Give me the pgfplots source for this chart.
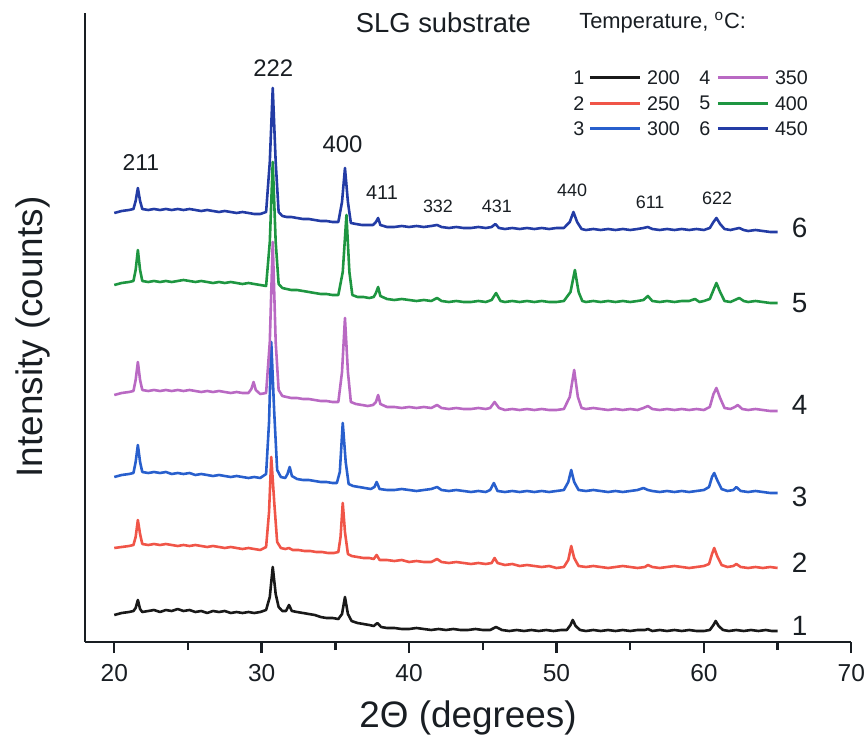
\documentclass[border=0pt]{standalone}
\usepackage{fontspec}
\setmainfont{Liberation Sans}
\usepackage{pgfplots}
\pgfplotsset{compat=1.18}
\definecolor{c1}{RGB}{25,25,25}
\definecolor{c2}{RGB}{240,85,72}
\definecolor{c3}{RGB}{40,95,205}
\definecolor{c4}{RGB}{185,105,195}
\definecolor{c5}{RGB}{30,150,65}
\definecolor{c6}{RGB}{35,60,165}
\definecolor{txt}{RGB}{25,30,35}
\begin{document}
\begin{tikzpicture}
\useasboundingbox (-42.4bp,-54.5bp) rectangle (390.1bp,321bp);
\begin{axis}[
 scale only axis, width=383.25bp, height=314.5bp,
 at={(0,0)}, anchor=south west,
 xmin=18, xmax=70, ymin=0, ymax=629,
 axis lines*=left,
 axis line style={line width=1.3pt, txt},
 xtick={20,30,...,70}, minor xtick={25,35,...,65},
 ytick=\empty,
 tick align=outside,
 major tick length=5.5bp, minor tick length=4bp,
 every tick/.style={line width=1.2pt, txt},
 /pgf/number format/assume math mode=true,
 xticklabel style={font=\fontsize{12.3}{14}\selectfont, text=txt, yshift=-2bp},
 xlabel={2Θ (degrees)},
 ylabel={Intensity (counts)},
 xlabel style={font=\fontsize{18.5}{22}\selectfont, text=txt, at={(rel axis cs:0.5,-0.1208)}, anchor=center},
 ylabel style={font=\fontsize{18.5}{22}\selectfont, text=txt, at={(rel axis cs:-0.0677,0.485)}, anchor=center},
 clip=false,
 every axis plot/.append style={line width=1.3pt, no markers, line join=round},
]
\addplot[c1] coordinates {(20,27)(20.5,29)(21,30)(21.3,31)(21.45,34)(21.6,42)(21.75,33)(21.9,30)(22.3,31)(22.7,32)(23.1,30)(23.5,32)(23.9,31)(24.3,33)(24.7,31)(25.1,32)(25.5,30)(25.9,31)(26.3,29)(26.7,31)(27.1,30)(27.5,31)(27.9,29)(28.3,30)(28.7,29)(29.1,30)(29.5,29)(29.9,30)(30.3,32)(30.55,45)(30.75,75)(30.95,48)(31.15,35)(31.4,31)(31.65,31)(31.85,37)(32.05,31)(32.4,30)(32.8,29)(33.2,28)(33.6,27)(34,25)(34.4,24)(34.8,24)(35.2,23)(35.45,28)(35.65,45)(35.85,28)(36.1,21)(36.5,19)(36.9,18)(37.3,17)(37.6,16)(37.85,19)(38.1,15)(38.5,14)(39,14)(39.5,13)(40,13)(40.5,14)(41,13)(41.5,12)(42,13)(42.5,12)(43,13)(43.5,12)(44,12)(44.5,13)(45,12)(45.5,12)(45.9,15)(46.3,12)(46.8,11)(47.3,12)(47.8,11)(48.3,12)(48.8,11)(49.3,12)(49.8,11)(50.3,12)(50.7,12)(50.95,17)(51.1,22)(51.3,16)(51.6,12)(52,11)(52.5,12)(53,11)(53.5,12)(54,11)(54.5,12)(55,11)(55.5,12)(56,12)(56.2,13)(56.5,11)(57,12)(57.5,11)(58,12)(58.5,11)(59,12)(59.5,11)(60,11)(60.4,12)(60.65,17)(60.8,21)(61,16)(61.3,12)(61.7,11)(62.2,12)(62.7,11)(63.2,12)(63.7,11)(64.2,12)(64.6,11)(65,11)};
\addplot[c2] coordinates {(20,94)(20.5,95)(21,96)(21.3,97)(21.45,105)(21.6,122)(21.75,108)(21.9,98)(22.3,97)(22.7,98)(23.1,97)(23.5,98)(23.9,97)(24.3,96)(24.7,97)(25.1,96)(25.5,97)(25.9,96)(26.3,95)(26.7,96)(27.1,95)(27.5,94)(27.9,95)(28.3,94)(28.7,93)(29.1,94)(29.5,93)(29.9,92)(30.3,95)(30.5,130)(30.65,185)(30.85,140)(31.05,100)(31.3,94)(31.6,93)(31.85,94)(32.1,92)(32.5,92)(32.9,91)(33.3,91)(33.7,90)(34.1,90)(34.5,89)(34.9,89)(35.2,90)(35.35,105)(35.5,139)(35.65,110)(35.85,88)(36.1,86)(36.5,85)(36.9,84)(37.3,84)(37.6,83)(37.8,87)(38,82)(38.5,82)(39,81)(39.5,82)(40,80)(40.5,81)(41,80)(41.5,80)(41.9,83)(42.2,80)(42.7,79)(43.2,80)(43.7,79)(44.2,78)(44.7,79)(45.2,78)(45.6,79)(45.8,84)(46,79)(46.5,77)(47,78)(47.5,76)(48,77)(48.5,76)(49,75)(49.5,76)(50,74)(50.5,75)(50.8,82)(51,96)(51.2,84)(51.5,76)(52,75)(52.5,76)(53,75)(53.5,74)(54,75)(54.5,76)(55,75)(55.5,74)(56,75)(56.2,77)(56.5,75)(57,74)(57.5,75)(58,76)(58.5,75)(59,74)(59.5,75)(60,76)(60.35,78)(60.55,88)(60.7,94)(60.9,86)(61.2,77)(61.6,75)(62,76)(62.2,78)(62.5,75)(63,74)(63.5,75)(64,74)(64.5,75)(65,74)};
\addplot[c3] coordinates {(20,165)(20.5,167)(21,168)(21.3,169)(21.45,180)(21.6,197)(21.75,180)(21.9,170)(22.3,169)(22.7,170)(23.1,169)(23.5,170)(23.9,168)(24.3,169)(24.7,168)(25.1,169)(25.5,167)(25.9,168)(26.3,167)(26.7,166)(27.1,167)(27.5,166)(27.9,165)(28.3,166)(28.7,165)(29.1,164)(29.5,165)(29.9,164)(30.3,168)(30.5,220)(30.65,300)(30.85,230)(31.05,172)(31.3,165)(31.6,164)(31.75,168)(31.9,175)(32.05,166)(32.4,163)(32.8,162)(33.2,162)(33.6,161)(34,160)(34.4,160)(34.8,159)(35.1,159)(35.3,170)(35.5,219)(35.7,180)(35.9,158)(36.2,156)(36.6,155)(37,154)(37.4,153)(37.65,155)(37.8,160)(38,153)(38.5,152)(39,152)(39.5,153)(40,152)(40.5,151)(41,152)(41.5,153)(41.9,155)(42.2,152)(42.7,151)(43.2,152)(43.7,151)(44.2,150)(44.7,151)(45.2,150)(45.5,152)(45.75,159)(46,151)(46.5,150)(47,151)(47.5,150)(48,151)(48.5,150)(49,151)(49.5,150)(50,151)(50.5,152)(50.8,160)(51,172)(51.2,160)(51.5,152)(52,151)(52.5,152)(53,151)(53.5,150)(54,151)(54.5,150)(55,151)(55.5,152)(55.9,154)(56.2,152)(56.5,151)(57,150)(57.5,151)(58,150)(58.5,151)(59,150)(59.5,151)(60,152)(60.35,155)(60.55,165)(60.7,169)(60.9,162)(61.2,153)(61.6,151)(62,152)(62.2,155)(62.5,151)(63,150)(63.5,151)(64,150)(64.5,149)(65,149)};
\addplot[c4] coordinates {(20,247)(20.5,249)(21,250)(21.3,251)(21.45,262)(21.6,280)(21.75,262)(21.9,252)(22.3,251)(22.7,252)(23.1,251)(23.5,252)(23.9,251)(24.3,252)(24.7,251)(25.1,252)(25.5,251)(25.9,250)(26.3,251)(26.7,250)(27.1,251)(27.5,250)(27.9,249)(28.3,250)(28.7,249)(29.1,249)(29.3,253)(29.45,260)(29.6,252)(29.9,248)(30.3,249)(30.55,300)(30.75,400)(30.95,300)(31.15,252)(31.4,246)(31.7,245)(32,244)(32.4,244)(32.8,243)(33.2,243)(33.6,242)(34,241)(34.4,241)(34.8,240)(35.2,240)(35.45,270)(35.65,324)(35.85,270)(36.05,240)(36.4,238)(36.8,237)(37.2,236)(37.55,237)(37.75,240)(37.9,247)(38.05,238)(38.5,235)(39,235)(39.5,234)(40,235)(40.5,234)(41,235)(41.5,234)(41.9,237)(42.2,234)(42.7,233)(43.2,234)(43.7,233)(44.2,233)(44.7,234)(45.2,233)(45.5,234)(45.8,240)(46.1,234)(46.5,232)(47,233)(47.5,232)(48,233)(48.5,232)(49,233)(49.5,232)(50,232)(50.5,233)(50.9,245)(51.2,272)(51.45,245)(51.7,234)(52,233)(52.5,234)(53,233)(53.5,232)(54,233)(54.5,232)(55,233)(55.5,232)(55.9,234)(56.2,236)(56.5,233)(57,232)(57.5,233)(58,232)(58.5,233)(59,232)(59.5,233)(60,232)(60.4,235)(60.65,248)(60.85,254)(61.1,244)(61.4,234)(61.8,233)(62.1,235)(62.3,237)(62.6,233)(63,232)(63.5,233)(64,232)(64.5,231)(65,231)};
\addplot[c5] coordinates {(20,357)(20.5,359)(21,360)(21.3,361)(21.45,372)(21.6,392)(21.75,372)(21.9,361)(22.3,360)(22.7,361)(23.1,360)(23.5,361)(23.9,360)(24.3,361)(24.7,362)(25.1,361)(25.5,360)(25.9,361)(26.3,360)(26.7,359)(27.1,360)(27.5,359)(27.9,360)(28.3,359)(28.7,358)(29.1,359)(29.5,358)(29.9,357)(30.3,356)(30.55,400)(30.75,480)(30.95,400)(31.15,358)(31.4,354)(31.7,353)(32,352)(32.4,352)(32.8,351)(33.2,350)(33.6,349)(34,348)(34.4,348)(34.8,347)(35.2,347)(35.5,370)(35.75,427)(35.95,370)(36.15,347)(36.5,345)(36.9,345)(37.3,344)(37.6,345)(37.75,349)(37.9,355)(38.05,346)(38.5,343)(39,342)(39.5,343)(40,342)(40.5,341)(41,342)(41.5,341)(41.9,344)(42.2,341)(42.7,340)(43.2,341)(43.7,340)(44.2,340)(44.7,341)(45.2,340)(45.6,342)(45.9,349)(46.2,341)(46.5,340)(47,341)(47.5,340)(48,341)(48.5,340)(49,341)(49.5,340)(50,340)(50.5,341)(50.95,350)(51.25,372)(51.5,350)(51.75,341)(52,340)(52.5,341)(53,340)(53.5,341)(54,340)(54.5,341)(55,340)(55.5,341)(55.9,342)(56.2,346)(56.5,341)(57,340)(57.5,341)(58,340)(58.5,341)(59,341)(59.4,343)(59.7,340)(60,341)(60.4,343)(60.65,352)(60.85,359)(61.1,350)(61.4,341)(61.8,340)(62.1,342)(62.4,344)(62.7,341)(63,340)(63.5,341)(64,340)(64.5,339)(65,339)};
\addplot[c6] coordinates {(20,429)(20.5,431)(21,432)(21.3,433)(21.45,441)(21.6,454)(21.75,441)(21.9,433)(22.3,432)(22.7,433)(23.1,432)(23.5,433)(23.9,432)(24.3,433)(24.7,432)(25.1,433)(25.5,432)(25.9,431)(26.3,432)(26.7,431)(27.1,430)(27.5,431)(27.9,430)(28.3,429)(28.7,430)(29.1,429)(29.5,428)(29.9,428)(30.3,430)(30.55,480)(30.75,554)(30.95,480)(31.15,430)(31.4,426)(31.7,425)(32,425)(32.4,424)(32.8,423)(33.2,423)(33.6,422)(34,421)(34.4,421)(34.8,420)(35.2,420)(35.45,440)(35.65,474)(35.85,440)(36.05,419)(36.4,418)(36.8,417)(37.2,417)(37.55,417)(37.75,420)(37.9,424)(38.05,417)(38.5,415)(39,415)(39.5,416)(40,415)(40.5,416)(41,415)(41.5,416)(41.9,417)(42.2,415)(42.7,414)(43.2,415)(43.7,414)(44.2,414)(44.7,415)(45.2,414)(45.6,415)(45.85,418)(46.1,414)(46.5,413)(47,414)(47.5,413)(48,414)(48.5,413)(49,414)(49.5,413)(50,414)(50.5,414)(50.9,420)(51.15,430)(51.4,420)(51.7,413)(52,412)(52.5,413)(53,412)(53.5,413)(54,412)(54.5,413)(55,412)(55.5,413)(55.9,414)(56.2,415)(56.5,413)(57,412)(57.5,413)(58,412)(58.5,413)(59,412)(59.5,413)(60,412)(60.4,414)(60.65,420)(60.85,424)(61.1,418)(61.4,413)(61.8,412)(62.1,413)(62.4,414)(62.7,412)(63,411)(63.5,412)(64,411)(64.5,410)(65,410)};
% title and legend
\node[text=txt, font=\fontsize{13.75}{16}\selectfont] at (axis cs:42.33,619) {SLG substrate};
\node[text=txt, font=\fontsize{11}{13}\selectfont] at (axis cs:57.2,619) {Temperature, \textsuperscript{o}C:};
\begin{scope}[every node/.style={text=txt, font=\fontsize{9.9}{11}\selectfont}]
\node at (axis cs:51.52,564.7) {1};
\node at (axis cs:51.52,538.7) {2};
\node at (axis cs:51.52,513.7) {3};
\node at (axis cs:60.07,564.7) {4};
\node at (axis cs:60.07,538.7) {5};
\node at (axis cs:60.07,513.7) {6};
\node at (axis cs:57.26,564.7) {200};
\node at (axis cs:57.26,538.7) {250};
\node at (axis cs:57.26,513.7) {300};
\node at (axis cs:65.94,564.7) {350};
\node at (axis cs:65.94,538.7) {400};
\node at (axis cs:65.94,513.7) {450};
\end{scope}
\draw[c1, line width=1.3pt] (axis cs:52.27,564.7) -- (axis cs:55.66,564.7);
\draw[c2, line width=1.3pt] (axis cs:52.27,538.7) -- (axis cs:55.66,538.7);
\draw[c3, line width=1.3pt] (axis cs:52.27,513.7) -- (axis cs:55.66,513.7);
\draw[c4, line width=1.3pt] (axis cs:60.95,564.7) -- (axis cs:64.35,564.7);
\draw[c5, line width=1.3pt] (axis cs:60.95,538.7) -- (axis cs:64.35,538.7);
\draw[c6, line width=1.3pt] (axis cs:60.95,513.7) -- (axis cs:64.35,513.7);
% peak labels
\begin{scope}[every node/.style={text=txt}]
\node[font=\fontsize{11.5}{13}\selectfont] at (axis cs:21.81,479) {211};
\node[font=\fontsize{12}{14}\selectfont] at (axis cs:30.79,574) {222};
\node[font=\fontsize{12}{14}\selectfont] at (axis cs:35.48,498) {400};
\node[font=\fontsize{10}{12}\selectfont] at (axis cs:38.16,449) {411};
\node[font=\fontsize{9}{11}\selectfont] at (axis cs:41.96,436) {332};
\node[font=\fontsize{9}{11}\selectfont] at (axis cs:45.96,436) {431};
\node[font=\fontsize{9}{11}\selectfont] at (axis cs:51.06,452) {440};
\node[font=\fontsize{9}{11}\selectfont] at (axis cs:56.35,440) {611};
\node[font=\fontsize{9}{11}\selectfont] at (axis cs:60.9,444) {622};
\end{scope}
% curve numbers
\begin{scope}[every node/.style={text=txt, font=\fontsize{14}{16}\selectfont}]
\node at (axis cs:66.5,414) {6};
\node at (axis cs:66.5,339) {5};
\node at (axis cs:66.5,237) {4};
\node at (axis cs:66.5,145) {3};
\node at (axis cs:66.5,79) {2};
\node at (axis cs:66.5,16) {1};
\end{scope}
\end{axis}
\end{tikzpicture}
\end{document}
